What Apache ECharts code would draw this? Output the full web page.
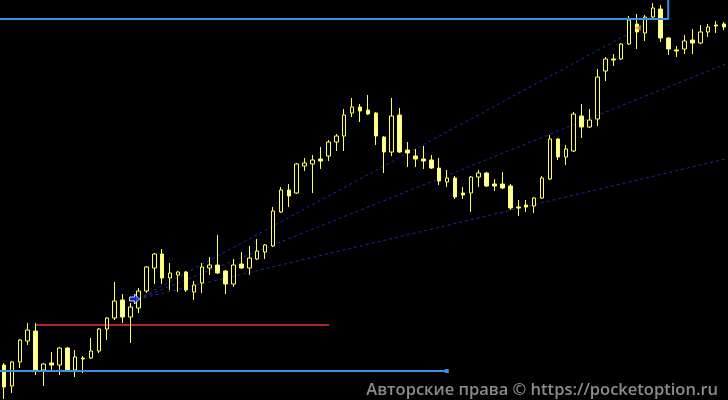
<!DOCTYPE html>
<html>
<head>
<meta charset="utf-8">
<style>
html,body{margin:0;padding:0;background:#000;}
#chart{width:728px;height:400px;}
</style>
<script src="https://cdn.jsdelivr.net/npm/echarts@6/dist/echarts.min.js"></script>
</head>
<body>
<div id="chart"></div>
<script>
// Candle values (price units = 400 - pixel row)
const openVals  = [35,14,38,59,69,30,37,35,52,30,42,42,49,71,82,100,83,92,109,132,146,122,125,128,108,117,132,135,129,116,136,132,141,148,154,188,210,207,234,236,241,244,258,264,287,293,290,287,263,248,285,250,244,241,240,232,218,222,207,207,223,227,216,216,214,193,195,194,202,221,261,243,249,284,273,281,329,341,341,356,376,367,383,391,362,350,351,360,357,368,375,376];
const closeVals = [13,38,60,70,30,36,35,52,30,43,41,49,71,82,99,83,93,109,133,146,122,127,128,110,115,133,135,127,116,135,132,142,149,155,189,210,204,236,237,240,239,258,264,285,293,289,286,264,248,284,248,247,241,239,232,219,222,203,205,223,227,214,214,212,192,192,193,202,222,261,243,251,286,273,280,323,341,340,356,380,368,383,392,362,351,349,359,357,368,373,374,373];
const lowVals   = [1,7,32,55,25,14,30,25,29,23,27,41,47,60,80,77,57,87,107,116,116,110,108,108,100,107,125,126,106,113,131,125,140,141,153,187,193,206,229,207,231,239,249,249,283,278,285,255,227,244,247,233,233,231,231,215,213,201,201,188,213,213,209,211,190,184,188,187,201,220,240,235,248,262,272,274,319,334,340,355,351,359,382,358,345,343,346,346,356,363,367,370];
const highVals  = [37,39,61,77,77,37,48,53,53,50,44,62,72,83,118,106,97,112,134,147,151,137,129,129,119,137,143,165,130,141,148,154,161,156,193,213,216,237,242,245,253,260,266,291,302,296,305,288,264,302,292,258,251,254,245,242,230,224,213,224,230,228,221,228,216,200,200,203,224,265,262,255,288,296,291,331,343,346,357,384,386,385,397,395,363,354,365,371,375,376,379,378];
const categories = Array.from({length: openVals.length}, (_, i) => 'bar ' + (i + 1));

// Drawn objects (x in bar-index units, y in price units)
const topBoxX = [-1, 83.95, 83.95];
const topBoxY = [381, 381, 402];
const supportX = [-1, 55.96];
const supportY = [29, 29];
const redX = [3.96, 41.1];
const redY = [75, 75];
const fanStart = [16.96, 101];
const fanEnds = [[80.96, 375], [91.2, 336], [91.2, 241]];
const blueArrow = [16.5, 101];
const orangeArrow = [80.1, 372];
const watermark = 'Авторские права © https://pocketoption.ru';

const candleData = openVals.map((o, i) => [o, closeVals[i], lowVals[i], highVals[i]]);
const zip = (xs, ys) => xs.map((x, i) => [x, ys[i]]);

const chart = echarts.init(document.getElementById('chart'), null, {renderer: 'canvas'});
const fanSeries = fanEnds.map(e => ({
  type: 'line', xAxisIndex: 1, yAxisIndex: 0, z: 1,
  data: [fanStart, e], symbol: 'none', silent: true,
  lineStyle: {color: '#2424b0', width: 1, type: [3, 3]}
}));
chart.setOption({
  animation: false,
  backgroundColor: '#000000',
  grid: {left: -3.7, top: 0, width: 736, height: 400, containLabel: false},
  xAxis: [
    {type: 'category', data: categories, show: false, boundaryGap: true},
    {type: 'value', min: -0.5, max: 91.5, show: false}
  ],
  yAxis: [{type: 'value', min: 0, max: 400, show: false}],
  series: [
    ...fanSeries,
    {
      type: 'line', xAxisIndex: 1, z: 2, data: zip(redX, redY), symbol: 'none', silent: true,
      lineStyle: {color: '#b3242b', width: 2}
    },
    {
      type: 'candlestick', xAxisIndex: 0, z: 3, data: candleData, barWidth: 4,
      itemStyle: {
        color: 'rgba(0,0,0,0)', color0: '#ffffaa',
        borderColor: '#ffff55', borderColor0: '#ffff55', borderWidth: 1
      }
    },
    {
      type: 'line', xAxisIndex: 1, z: 4, data: zip(topBoxX, topBoxY), symbol: 'none', silent: true,
      lineStyle: {color: '#3d8ee8', width: 2}
    },
    {
      type: 'line', xAxisIndex: 1, z: 4, data: zip(supportX, supportY), silent: true,
      symbol: 'rect', symbolSize: 4, showSymbol: true,
      itemStyle: {color: '#3d8ee8'},
      lineStyle: {color: '#3d8ee8', width: 2}
    },
    {
      type: 'scatter', xAxisIndex: 1, z: 5, silent: true,
      data: [blueArrow],
      symbol: 'path://M0,3 L5,3 L5,0 L10,5 L5,10 L5,7 L0,7 Z', symbolSize: [10, 10],
      itemStyle: {color: '#1a28ff', borderColor: '#ffffff', borderWidth: 1}
    },
    {
      type: 'scatter', xAxisIndex: 1, z: 5, silent: true,
      data: [orangeArrow],
      symbol: 'triangle', symbolRotate: 90, symbolSize: [6, 6],
      itemStyle: {color: '#d98a2b'}
    }
  ],
  graphic: [{
    type: 'text', right: 10, bottom: 1, z: 10,
    style: {text: watermark, fill: '#8c8c8c', font: '600 16.5px "Open Sans"'}
  }]
});
</script>
</body>
</html>
